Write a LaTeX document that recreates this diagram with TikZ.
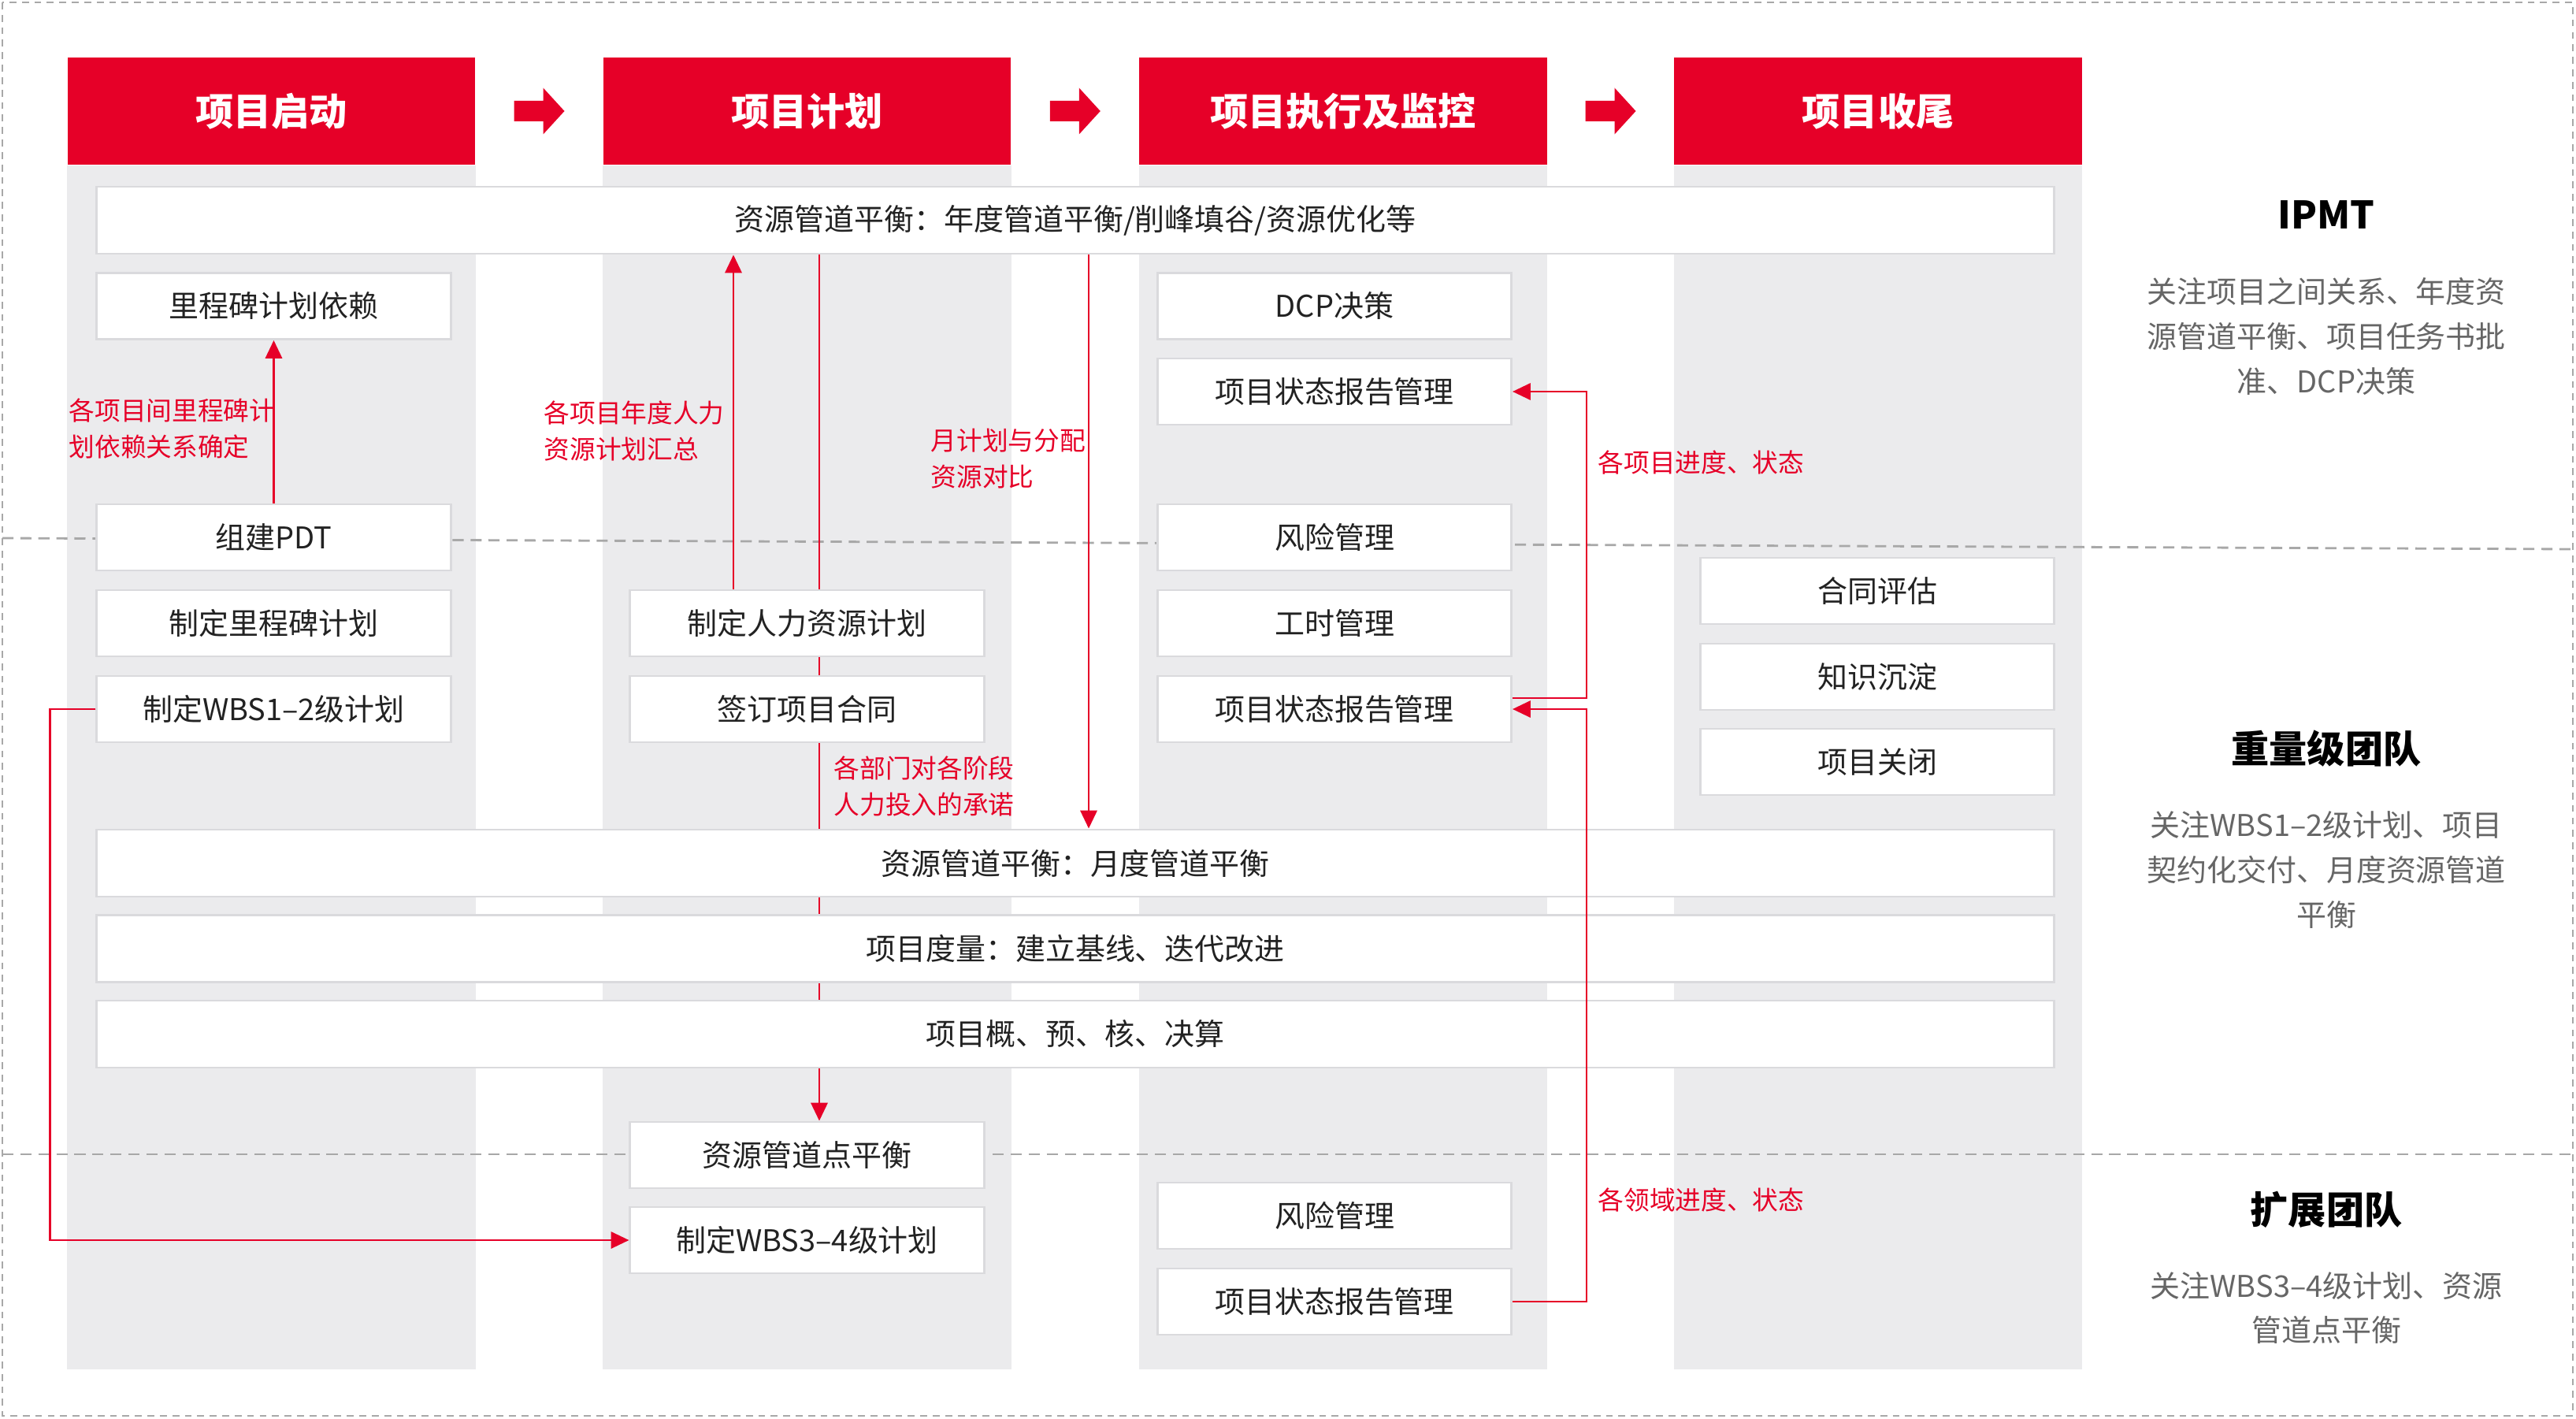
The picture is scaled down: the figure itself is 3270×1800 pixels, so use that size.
\documentclass[tikz,border=0pt]{standalone}
\usepackage{fontspec}
\setmainfont{Noto Sans CJK SC}
\usetikzlibrary{arrows.meta,calc}
\definecolor{mred}{HTML}{E60028}
\definecolor{colgray}{HTML}{EBEBED}
\definecolor{boxline}{HTML}{DADADD}
\definecolor{dashgray}{HTML}{A8A8A8}
\definecolor{txtgray}{HTML}{666666}
\definecolor{txtdark}{HTML}{222222}
\pgfdeclarelayer{bg}
\pgfdeclarelayer{mid}
\pgfsetlayers{bg,mid,main}

\begin{document}
\begin{tikzpicture}[x=0.01cm, y=-0.01cm,
  phase/.style={fill=mred, text=white, inner sep=0pt, minimum width=5.17cm,
    minimum height=1.36cm, font=\fontsize{13.7}{16}\selectfont\bfseries},
  task/.style={draw=boxline, line width=0.8pt, fill=white, text=txtdark, inner sep=0pt,
    minimum width=4.49cm, minimum height=0.84cm, font=\fontsize{10.8}{13}\selectfont},
  wide/.style={task, minimum width=24.84cm, minimum height=0.85cm},
  note/.style={text=mred, inner sep=0pt, align=left, font=\fontsize{9.3}{13.1}\selectfont},
  flow/.style={mred, line width=0.8pt, -{Triangle[length=6.5pt, width=6pt]}},
  team/.style={text=black, font=\fontsize{13.7}{16}\selectfont\bfseries},
  desc/.style={text=txtgray, align=center, font=\fontsize{10.8}{16.2}\selectfont}]
\useasboundingbox (0,0) rectangle (3270,1800);

%phases
  \node[phase] (start) at (344.5,141) {项目启动};
  \node[phase] (plan) at (1024.5,141) {项目计划};
  \node[phase] (exec) at (1705,141) {项目执行及监控};
  \node[phase] (close) at (2384,141) {项目收尾};

  \foreach \a/\b in {start/plan,plan/exec,exec/close}
    \fill[mred] ($(\a.east)!.5!(\b.west)$) ++(-32,-13) -- ++(37,0) -- ++(0,-16.5)
      -- ++(27,29.5) -- ++(-27,29.5) -- ++(0,-16.5) -- ++(-37,0) -- cycle;

%wide boxes
  \node[wide] (yearbal) at (1365,279.5) {资源管道平衡：年度管道平衡/削峰填谷/资源优化等};
  \node[wide] (monthbal) at (1365,1095.5) {资源管道平衡：月度管道平衡};
  \node[wide] (metric) at (1365,1204) {项目度量：建立基线、迭代改进};
  \node[wide] (budget) at (1365,1312.5) {项目概、预、核、决算};

%start column
  \node[task] (ms) at (347.5,388.5) {里程碑计划依赖};
  \node[task] (pdt) at (347.5,682) {组建PDT};
  \node[task] (msplan) at (347.5,791) {制定里程碑计划};
  \node[task] (wbs12) at (347.5,900) {制定WBS1–2级计划};

%plan column
  \node[task] (hr) at (1024.5,791) {制定人力资源计划};
  \node[task] (contract) at (1024.5,900) {签订项目合同};
  \node[task] (pointbal) at (1024.5,1466) {资源管道点平衡};
  \node[task] (wbs34) at (1024.5,1574) {制定WBS3–4级计划};

%exec column
  \node[task] (dcp) at (1694,388.5) {DCP决策};
  \node[task] (rep1) at (1694,497) {项目状态报告管理};
  \node[task] (risk1) at (1694,682) {风险管理};
  \node[task] (hours) at (1694,791) {工时管理};
  \node[task] (rep2) at (1694,900) {项目状态报告管理};
  \node[task] (risk2) at (1694,1543) {风险管理};
  \node[task] (rep3) at (1694,1652) {项目状态报告管理};

%close column
  \node[task] (eval) at (2383,750) {合同评估};
  \node[task] (know) at (2383,859) {知识沉淀};
  \node[task] (shut) at (2383,967) {项目关闭};

%teams
  \node[team] (ipmt) at (2953,273) {IPMT};
  \node[desc] (ipmtd) at (2953,427) {关注项目之间关系、年度资\\源管道平衡、项目任务书批\\准、DCP决策};
  \node[team] (heavy) at (2953,950) {重量级团队};
  \node[desc] (heavyd) at (2953,1104) {关注WBS1–2级计划、项目\\契约化交付、月度资源管道\\平衡};
  \node[team] (ext) at (2953,1535) {扩展团队};
  \node[desc] (extd) at (2953,1660) {关注WBS3–4级计划、资源\\管道点平衡};

%background
\begin{pgfonlayer}{bg}
  \foreach \p in {start,plan,exec,close}
    \fill[colgray] (\p.south west) rectangle ($(\p.south east)+(0,1528)$);
  \draw[dashgray, line width=0.8pt, dash pattern=on 4pt off 2.5pt] (3,683) -- (3266,697);
  \draw[dashgray, line width=0.8pt, dash pattern=on 4pt off 2.5pt] (3,1465) -- (3266,1465);
  \draw[dashgray, line width=0.8pt, dash pattern=on 2.5pt off 2pt] (3,3) rectangle (3266,1797);
\end{pgfonlayer}

%connectors
  \coordinate (hrup) at ($(hr.north)+(-93.5,0)$);
  \coordinate (commit) at ($(pointbal.north)+(15.5,0)$);
  \coordinate (monthdn) at (1382,600);

  \draw[flow] (pdt) -- (ms);
  \draw[flow] (hrup) -- (hrup |- yearbal.south);
  \begin{pgfonlayer}{mid}
    \draw[flow] (commit |- yearbal.south) -- (commit);
  \end{pgfonlayer}
  \draw[flow] (monthdn |- yearbal.south) -- (monthdn |- monthbal.north);
  \draw[flow] ($(rep2.east)+(0,-14)$) -- ++(94,0) |- (rep1.east);
  \draw[flow] (rep3.east) -- ++(94,0) |- (rep2.east);
  \draw[flow] (wbs12.west) -- ++(-58,0) |- (wbs34.west);

  \node[note, anchor=west] (n1) at (87,544) {各项目间里程碑计\\划依赖关系确定};
  \node[note, anchor=west] (n2) at (690,547) {各项目年度人力\\资源计划汇总};
  \node[note, anchor=west] (n3) at (1058,998) {各部门对各阶段\\人力投入的承诺};
  \node[note, anchor=west] (n4) at (1181,582) {月计划与分配\\资源对比};
  \node[note, anchor=west] (n5) at (2028,587) {各项目进度、状态};
  \node[note, anchor=west] (n6) at (2028,1523) {各领域进度、状态};
\end{tikzpicture}
\end{document}
